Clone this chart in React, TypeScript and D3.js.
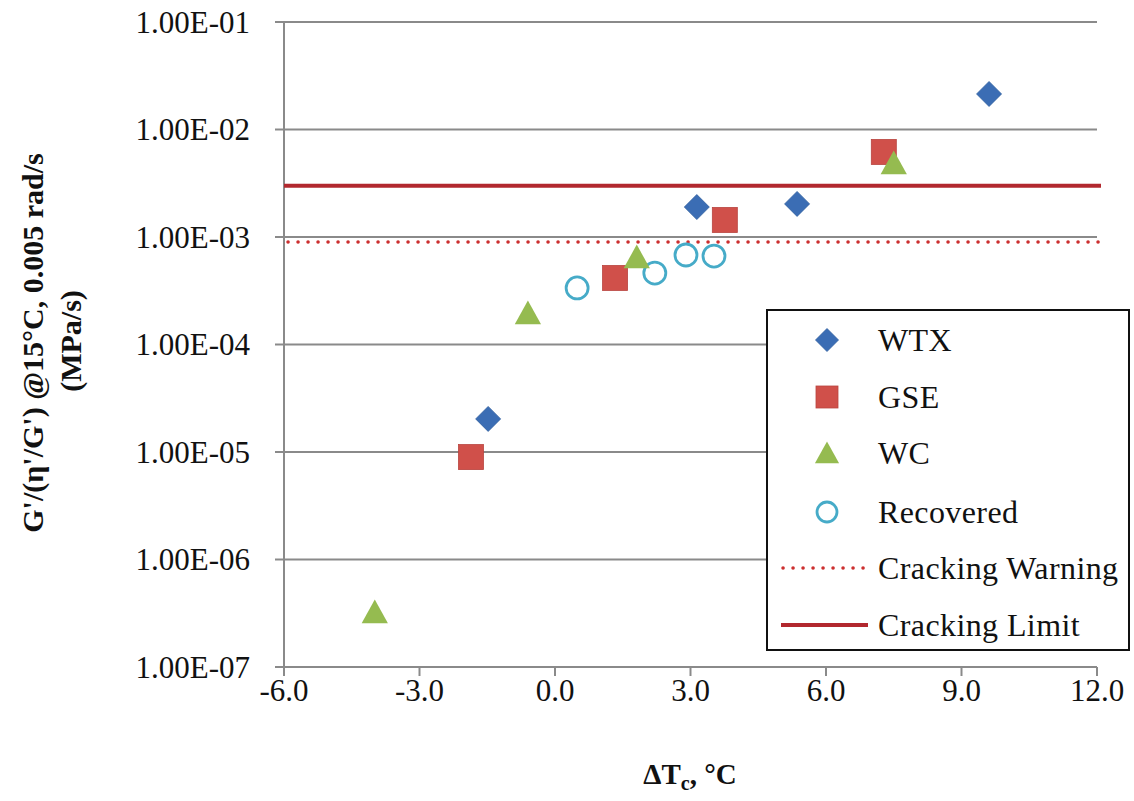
import React from "react";
import * as d3 from "d3";

const xTicks = [-6, -3, 0, 3, 6, 9, 12];
const yTicks = [1e-7, 1e-6, 1e-5, 1e-4, 1e-3, 1e-2, 1e-1];
const yTickLabels = ["1.00E-07", "1.00E-06", "1.00E-05", "1.00E-04", "1.00E-03", "1.00E-02", "1.00E-01"];

const wtxX = [-1.48, 3.14, 5.36, 9.61];
const wtxY = [2.03e-5, 1.9e-3, 2.03e-3, 2.14e-2];
const gseX = [-1.86, 1.33, 3.76, 7.28];
const gseY = [8.97e-6, 4.16e-4, 1.44e-3, 6.18e-3];
const wcX = [-3.99, -0.6, 1.81, 7.5];
const wcY = [3.25e-7, 1.96e-4, 6.5e-4, 4.88e-3];
const recX = [0.49, 2.21, 2.9, 3.52];
const recY = [3.36e-4, 4.62e-4, 6.8e-4, 6.65e-4];

const crackingWarning = 9.0e-4;
const crackingLimit = 3.0e-3;

const legendLabels = ["WTX", "GSE", "WC", "Recovered", "Cracking Warning", "Cracking Limit"];

const BLUE = "#3b6db4";
const RED = "#d0504a";
const GREEN = "#95bb50";
const AQUA = "#46abc8";
const LIMIT = "#b2282e";
const WARN = "#cc2e2e";
const GRID = "#8a8a8a";
const FONT = "Liberation Serif, DejaVu Serif, serif";
const TS: React.CSSProperties = { fontFamily: FONT };

const W = 1134;
const H = 801;
const left = 284;
const right = 1097;
const top = 22;
const bottom = 667;

function Diamond({ x, y, s }: { x: number; y: number; s: number }) {
  return <path d={`M${x},${y - s}L${x + s},${y}L${x},${y + s}L${x - s},${y}Z`} fill={BLUE} stroke="#2f5e9e" strokeWidth={0.8} />;
}
function Square({ x, y, s }: { x: number; y: number; s: number }) {
  return <rect x={x - s} y={y - s} width={2 * s} height={2 * s} fill={RED} stroke="#b8443f" strokeWidth={0.8} />;
}
function Triangle({ x, y, s }: { x: number; y: number; s: number }) {
  return <path d={`M${x},${y - s}L${x + s * 1.05},${y + s * 0.9}L${x - s * 1.05},${y + s * 0.9}Z`} fill={GREEN} />;
}
function Ring({ x, y, r }: { x: number; y: number; r: number }) {
  return <circle cx={x} cy={y} r={r} fill="none" stroke={AQUA} strokeWidth={2.8} />;
}

export default function App() {
  const xs = d3.scaleLinear().domain([-6, 12]).range([left, right]);
  const ys = d3.scaleLog().domain([1e-7, 1e-1]).range([bottom, top]);

  const legX = 767;
  const legY = 310;
  const legW = 362;
  const legH = 340;
  const rowY = [340, 397, 453, 512, 568, 625];
  const mX = 827;
  const tX = 878;

  return (
    <svg width={W} height={H} style={{ position: "absolute", left: 0, top: 0, background: "#fff", fontFamily: FONT }}>
      <rect x={0} y={0} width={W} height={H} fill="#fff" />
      {yTicks.map((t, i) => (
        <line key={"g" + i} x1={left} x2={right} y1={ys(t)} y2={ys(t)} stroke={GRID} strokeWidth={2} />
      ))}
      <line x1={left} x2={left} y1={top} y2={bottom} stroke={GRID} strokeWidth={2} />
      {yTicks.map((t, i) => (
        <g key={"yt" + i}>
          <line x1={left - 9} x2={left} y1={ys(t)} y2={ys(t)} stroke={GRID} strokeWidth={2} />
          <text x={250} y={ys(t)} dy="0.34em" textAnchor="end" fontSize={31} fill="#111" style={TS}>
            {yTickLabels[i]}
          </text>
        </g>
      ))}
      <line x1={left} x2={right} y1={bottom} y2={bottom} stroke={GRID} strokeWidth={2} />
      {xTicks.map((t, i) => (
        <g key={"xt" + i}>
          <line x1={xs(t)} x2={xs(t)} y1={bottom} y2={bottom + 9} stroke={GRID} strokeWidth={2} />
          <text x={xs(t)} y={701} textAnchor="middle" fontSize={31} fill="#111" style={TS}>
            {t.toFixed(1)}
          </text>
        </g>
      ))}
      <line x1={left} x2={1101} y1={ys(crackingLimit)} y2={ys(crackingLimit)} stroke={LIMIT} strokeWidth={4} />
      <line x1={left + 4} x2={1101} y1={ys(crackingWarning)} y2={ys(crackingWarning)} stroke={WARN} strokeWidth={3.5} strokeDasharray="0.1 9.9" strokeLinecap="round" />
      {recX.map((v, i) => (
        <Ring key={"r" + i} x={xs(v)} y={ys(recY[i])} r={11} />
      ))}
      {wtxX.map((v, i) => (
        <Diamond key={"d" + i} x={xs(v)} y={ys(wtxY[i])} s={12.5} />
      ))}
      {gseX.map((v, i) => (
        <Square key={"s" + i} x={xs(v)} y={ys(gseY[i])} s={12.5} />
      ))}
      {wcX.map((v, i) => (
        <Triangle key={"t" + i} x={xs(v)} y={ys(wcY[i])} s={12.5} />
      ))}
      <rect x={legX} y={legY} width={legW} height={legH} fill="#fff" stroke="#111" strokeWidth={2} />
      <Diamond x={mX} y={rowY[0]} s={11.5} />
      <Square x={mX} y={rowY[1]} s={11} />
      <Triangle x={mX} y={rowY[2]} s={11.5} />
      <Ring x={mX} y={rowY[3]} r={10} />
      <line x1={783} x2={866} y1={rowY[4]} y2={rowY[4]} stroke={WARN} strokeWidth={3.5} strokeDasharray="0.1 9.9" strokeLinecap="round" />
      <line x1={781} x2={868} y1={rowY[5]} y2={rowY[5]} stroke={LIMIT} strokeWidth={4} />
      {legendLabels.map((l, i) => (
        <text key={"l" + i} x={tX} y={rowY[i]} dy="0.34em" fontSize={32} letterSpacing={0.4} fill="#111" style={TS}>
          {l}
        </text>
      ))}
      <text transform="translate(43,343) rotate(-90)" textAnchor="middle" fontSize={30} fontWeight="bold" fill="#111" style={TS}>
        G'/(η'/G') @15°C, 0.005 rad/s
      </text>
      <text transform="translate(81,341) rotate(-90)" textAnchor="middle" fontSize={30} fontWeight="bold" fill="#111" style={TS}>
        (MPa/s)
      </text>
      <text x={690} y={784} textAnchor="middle" fontSize={29} fontWeight="bold" fill="#111" style={TS}>
        ΔT<tspan fontSize={20} dy={6}>c</tspan>
        <tspan dy={-6}>, °C</tspan>
      </text>
    </svg>
  );
}
